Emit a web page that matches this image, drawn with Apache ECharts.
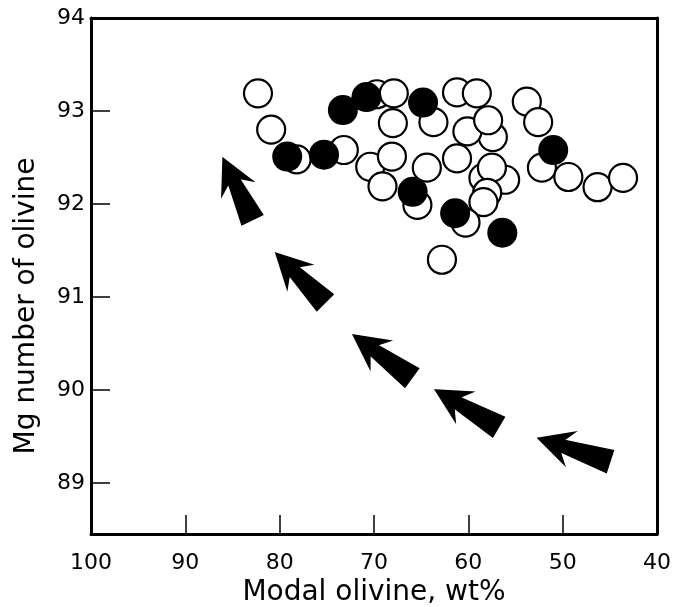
<!DOCTYPE html>
<html>
<head>
<meta charset="utf-8">
<script src="https://cdn.jsdelivr.net/npm/echarts@6/dist/echarts.min.js"></script>
<style>html,body{margin:0;padding:0;background:#fff}#c{width:674px;height:607px}</style>
</head>
<body>
<div id="c"></div>
<script>
var xTicks = [100, 90, 80, 70, 60, 50, 40];
var yTicks = [89, 90, 91, 92, 93, 94];

// open circles: [modal olivine wt%, Mg number]
var openPts = [
  [82.3, 93.19], [80.9, 92.80], [78.2, 92.48], [73.2, 92.58],
  [69.7, 93.18], [67.9, 93.19], [68.0, 92.87], [63.7, 92.88],
  [61.2, 93.20], [59.1, 93.19], [57.4, 92.72], [60.1, 92.78], [57.9, 92.90],
  [53.8, 93.10], [52.6, 92.88], [52.2, 92.39], [49.4, 92.29], [46.3, 92.18], [43.6, 92.28],
  [70.4, 92.40], [68.1, 92.51], [69.1, 92.19], [65.4, 91.99], [64.4, 92.39],
  [61.2, 92.49], [58.4, 92.28], [56.1, 92.26], [57.5, 92.39],
  [58.0, 92.12], [58.4, 92.02], [60.3, 91.80], [62.8, 91.40]
];
// filled circles
var filledPts = [
  [79.2, 92.51], [75.3, 92.53], [73.3, 93.01], [70.8, 93.15], [64.8, 93.09],
  [65.9, 92.13], [61.4, 91.90], [56.4, 91.69], [51.0, 92.58]
];
// arrows: [tipX, tipY, tailX, tailY]
var arrows = [
  [86.0, 92.49, 82.9, 91.83],
  [80.4, 91.47, 75.2, 90.94],
  [72.2, 90.59, 66.0, 90.13],
  [63.5, 90.00, 56.8, 89.60],
  [52.6, 89.48, 45.0, 89.23]
];

var FONT = 'DejaVu Sans';
var chart = echarts.init(document.getElementById('c'), null, {renderer: 'canvas'});

function arrowItem(params, api) {
  var t = api.coord([api.value(0), api.value(1)]);
  var e = api.coord([api.value(2), api.value(3)]);
  var dx = e[0] - t[0], dy = e[1] - t[1];
  var L = Math.sqrt(dx * dx + dy * dy);
  var ux = dx / L, uy = dy / L, nx = -uy, ny = ux;
  function p(a, b) { return [t[0] + ux * a + nx * b, t[1] + uy * a + ny * b]; }
  var pts = [
    p(0, 0), p(33, -17), p(25, -6), p(L, -11.5), p(L, 11.5), p(25, 6), p(33, 17)
  ];
  return {type: 'polygon', shape: {points: pts}, style: {fill: '#000', stroke: '#000', lineWidth: 1.5}};
}

chart.setOption({
  animation: false,
  backgroundColor: '#fff',
  grid: {left: 91, right: 17, top: 18, bottom: 73, show: false, containLabel: false, outerBoundsMode: 'none'},
  xAxis: [{
    type: 'value', min: 40, max: 100, interval: 10, inverse: true, position: 'bottom',
    name: 'Modal olivine, wt%', nameLocation: 'middle', nameGap: 39,
    nameTextStyle: {fontFamily: FONT, fontSize: 28, color: '#000'},
    axisLine: {show: true, lineStyle: {color: '#000', width: 3}},
    axisTick: {show: true, inside: true, length: 19, lineStyle: {color: '#000', width: 1.5}},
    axisLabel: {show: true, margin: 18, fontFamily: FONT, fontSize: 22, color: '#000',
      customValues: xTicks},
    splitLine: {show: false}
  }, {
    type: 'value', min: 40, max: 100, inverse: true, position: 'top',
    axisLine: {show: true, lineStyle: {color: '#000', width: 3}},
    axisTick: {show: false}, axisLabel: {show: false}, splitLine: {show: false}
  }],
  yAxis: [{
    type: 'value', min: 88.45, max: 94, position: 'left',
    name: 'Mg number of olivine', nameLocation: 'middle', nameGap: 50,
    nameTextStyle: {fontFamily: FONT, fontSize: 28, color: '#000', padding: [0, 60, 0, 0]},
    axisLine: {show: true, lineStyle: {color: '#000', width: 3}},
    axisTick: {show: true, inside: true, length: 19, lineStyle: {color: '#000', width: 1.5},
      customValues: yTicks},
    axisLabel: {show: true, margin: 6, fontFamily: FONT, fontSize: 22, color: '#000',
      customValues: yTicks},
    splitLine: {show: false}
  }, {
    type: 'value', min: 88.45, max: 94, position: 'right',
    axisLine: {show: true, lineStyle: {color: '#000', width: 3}},
    axisTick: {show: false}, axisLabel: {show: false}, splitLine: {show: false}
  }],
  series: [{
    type: 'custom', renderItem: arrowItem, data: arrows, z: 2,
    encode: {x: [0, 2], y: [1, 3]}
  }, {
    type: 'scatter', data: openPts, symbol: 'circle', symbolSize: 28, z: 3,
    itemStyle: {color: '#fff', borderColor: '#000', borderWidth: 2.2, opacity: 1}
  }, {
    type: 'scatter', data: filledPts, symbol: 'circle', symbolSize: 30, z: 4,
    itemStyle: {color: '#000', borderColor: '#000', borderWidth: 0, opacity: 1}
  }]
});
</script>
</body>
</html>
